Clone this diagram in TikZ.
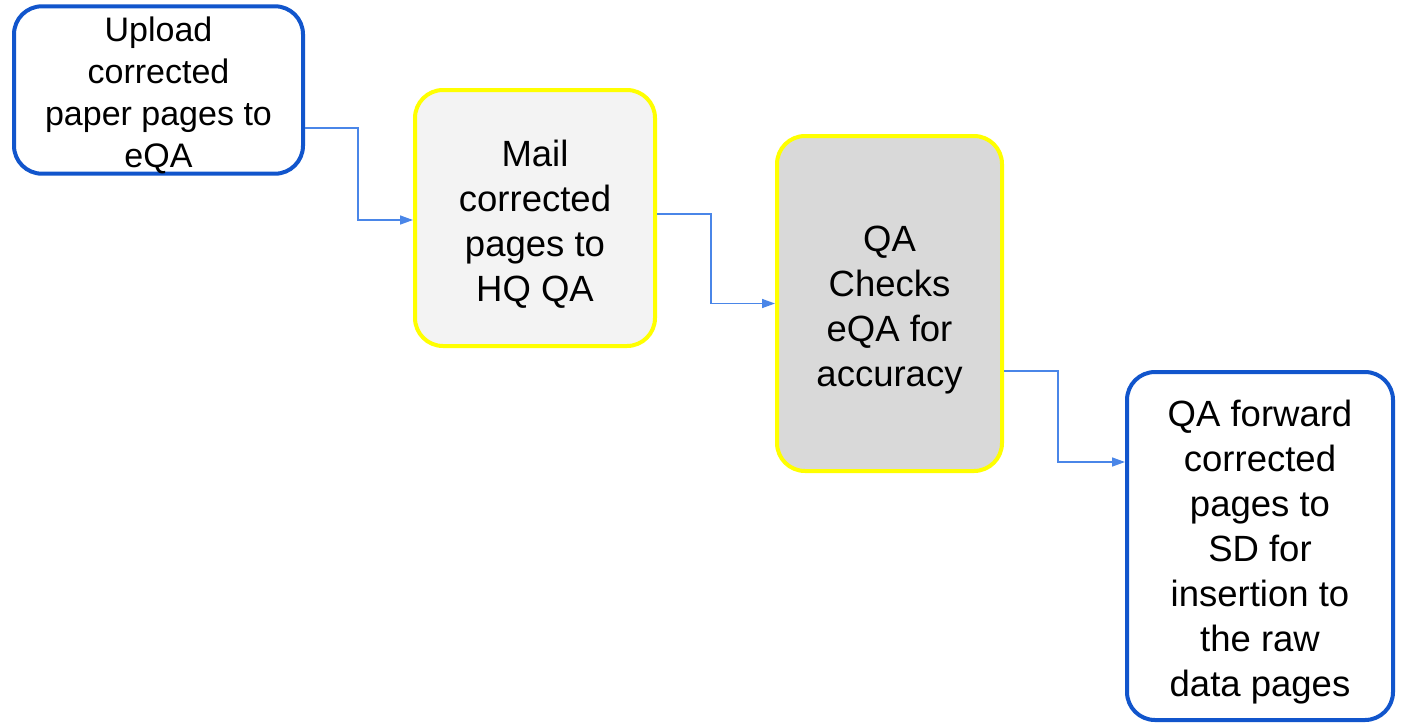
\documentclass[tikz,border=0pt]{standalone}
\usepackage{fontspec}
\setmainfont{Liberation Sans}
\usetikzlibrary{arrows.meta}
\definecolor{bluebd}{HTML}{1155CC}
\definecolor{yellbd}{HTML}{FFFF00}
\definecolor{connc}{HTML}{4A86E8}
\definecolor{fillA}{HTML}{F3F3F3}
\definecolor{fillB}{HTML}{D9D9D9}
\newcommand{\mytopA}{\rule{0pt}{35pt}}
\newcommand{\mytopB}{\rule{0pt}{38pt}}
\tikzset{
  boxbase/.style={draw, line width=4pt, rounded corners=28pt, align=center, inner sep=0pt},
  bluebox/.style={boxbase, draw=bluebd, fill=white},
  yellbox/.style={boxbase, draw=yellbd},
  bigtxt/.style={font=\fontsize{36.5}{45}\selectfont},
  smalltxt/.style={font=\fontsize{34}{42}\selectfont},
  conn/.style={draw=connc, line width=1.5pt, -{Triangle[length=13pt,width=9pt]}}
}
\begin{document}
\begin{tikzpicture}[x=1pt,y=1pt]
\useasboundingbox[fill=white] (0,0) rectangle (1401,-724);
\node[bluebox, smalltxt, minimum width=289pt, minimum height=166pt] (b1) at (158.5,-90)
  {\mytopA Upload\\corrected\\paper pages to\\eQA};
\node[yellbox, fill=fillA, bigtxt, minimum width=240pt, minimum height=256pt] (b2) at (535,-218)
  {\mytopB Mail\\corrected\\pages to\\HQ QA};
\node[yellbox, fill=fillB, bigtxt, minimum width=225pt, minimum height=335pt] (b3) at (889.5,-303.5)
  {\mytopB QA\\Checks\\eQA for\\accuracy};
\node[bluebox, bigtxt, minimum width=266pt, minimum height=348pt] (b4) at (1260,-546)
  {\mytopB QA forward\\corrected\\pages to\\SD for\\insertion to\\the raw\\data pages};
\draw[conn] ([yshift=-38pt]b1.east) -- ++(53pt,0) |- ([yshift=-2pt]b2.west);
\draw[conn] ([yshift=4pt]b2.east) -- ++(54pt,0) |- (b3.west);
\draw[conn] ([yshift=-67.5pt]b3.east) -- ++(54pt,0) |- ([yshift=84pt]b4.west);
\end{tikzpicture}
\end{document}
